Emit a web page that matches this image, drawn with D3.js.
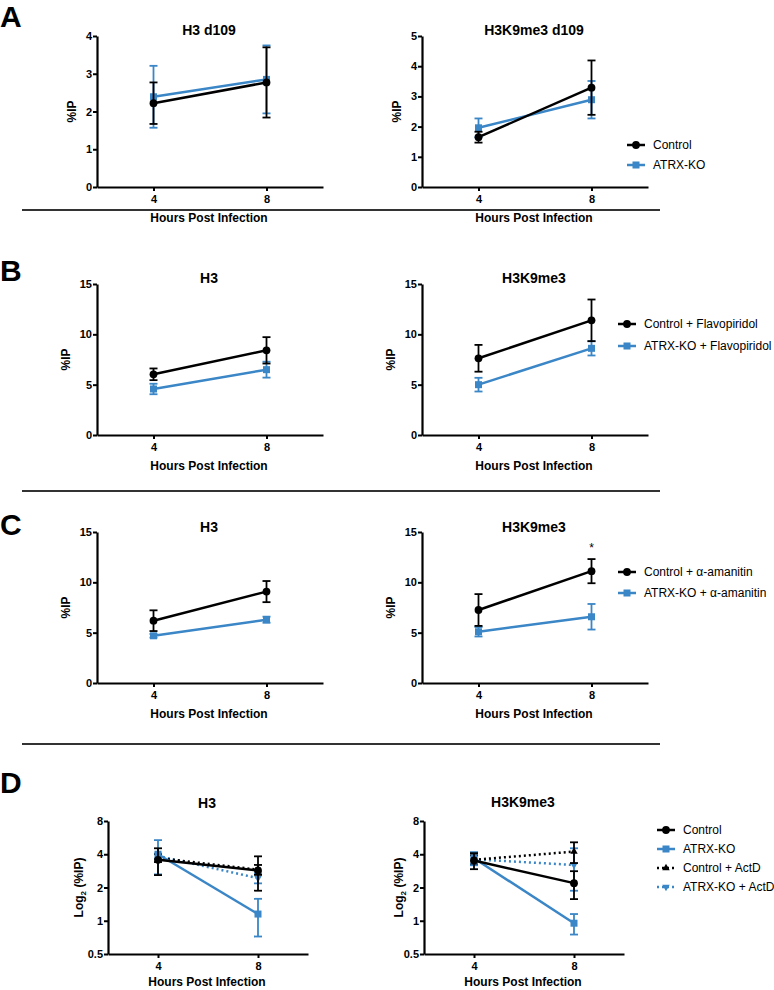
<!DOCTYPE html>
<html><head><meta charset="utf-8">
<script src="https://cdn.jsdelivr.net/npm/d3@7"></script>
<style>body{margin:0;background:#fff}</style>
</head><body><div id="chart"></div>
<script>
// ---------- DATA ----------
const hours = [4, 8];
const xTickLabels = ["4", "8"];

// A: d109
const aH3Control = [2.22, 2.77], aH3ControlSem = [0.55, 0.93];
const aH3Atrx = [2.39, 2.85], aH3AtrxSem = [0.82, 0.90];
const aK9Control = [1.65, 3.29], aK9ControlSem = [0.18, 0.90];
const aK9Atrx = [1.96, 2.89], aK9AtrxSem = [0.31, 0.62];
// B: Flavopiridol
const bH3Control = [6.03, 8.41], bH3ControlSem = [0.58, 1.31];
const bH3Atrx = [4.57, 6.49], bH3AtrxSem = [0.52, 0.79];
const bK9Control = [7.62, 11.39], bK9ControlSem = [1.33, 2.07];
const bK9Atrx = [5.00, 8.61], bK9AtrxSem = [0.68, 0.71];
// C: alpha-amanitin
const cH3Control = [6.19, 9.08], cH3ControlSem = [1.03, 1.05];
const cH3Atrx = [4.69, 6.29], cH3AtrxSem = [0.18, 0.30];
const cK9Control = [7.25, 11.11], cK9ControlSem = [1.58, 1.20];
const cK9Atrx = [5.09, 6.58], cK9AtrxSem = [0.47, 1.27];
// D: ActD (log2 axis)
const dH3Control = [3.56, 2.85], dH3ControlSem = [0.97, 0.98];
const dH3Atrx = [4.00, 1.15], dH3AtrxSem = [1.37, 0.43];
const dH3ControlActD = [3.70, 2.90], dH3ControlActDSem = [0.30, 0.30];
const dH3AtrxActD = [3.86, 2.43], dH3AtrxActDSem = [0.20, 0.25];
const dK9Control = [3.51, 2.19], dK9ControlSem = [0.58, 0.62];
const dK9Atrx = [3.68, 0.95], dK9AtrxSem = [0.50, 0.20];
const dK9ControlActD = [3.56, 4.23], dK9ControlActDSem = [0.35, 0.90];
const dK9AtrxActD = [3.60, 3.20], dK9AtrxActDSem = [0.30, 1.33];

const linTicks4 = [0, 1, 2, 3, 4];
const linTicks5 = [0, 1, 2, 3, 4, 5];
const linTicks15 = [0, 5, 10, 15];
const logTicks = [0.5, 1, 2, 4, 8];

const panelLetters = ["A", "B", "C", "D"];
const legendA = ["Control", "ATRX-KO"];
const legendB = ["Control + Flavopiridol", "ATRX-KO + Flavopiridol"];
const legendC = ["Control + \u03b1-amanitin", "ATRX-KO + \u03b1-amanitin"];
const legendD = ["Control", "ATRX-KO", "Control + ActD", "ATRX-KO + ActD"];

// ---------- STYLE ----------
const BLUE = "#3a86c6", BLACK = "#000";
const FONT = "'Liberation Sans', Arial, Helvetica, sans-serif";
const styles = {
  ctrl: {color: BLACK, marker: "circle", dash: null},
  atrx: {color: BLUE, marker: "square", dash: null},
  ctrlD: {color: BLACK, marker: "tri", dash: "2,3"},
  atrxD: {color: BLUE, marker: "triDown", dash: "2,3"}
};

const W = 774, H = 990;
const svg = d3.select("#chart").append("svg").attr("width", W).attr("height", H)
  .style("font-family", FONT);

function marker(g, type, color, cx, cy) {
  if (type === "circle") g.append("circle").attr("cx", cx).attr("cy", cy).attr("r", 3.9).attr("fill", color);
  else if (type === "square") g.append("rect").attr("x", cx - 3.5).attr("y", cy - 3.5).attr("width", 7).attr("height", 7).attr("fill", color);
  else {
    const sym = d3.symbol().type(d3.symbolTriangle).size(24);
    g.append("path").attr("d", sym()).attr("transform", `translate(${cx},${cy})${type === "triDown" ? " rotate(180)" : ""}`).attr("fill", color);
  }
}

function drawPanel(p) {
  const g = svg.append("g");
  const x = d3.scaleLinear().domain([2, 10]).range([p.x0, p.x1]);
  const y = (p.log ? d3.scaleLog().base(2) : d3.scaleLinear()).domain(p.yDomain).range([p.yBot, p.yTop]);

  const xa = g.append("g").attr("transform", `translate(0,${p.yBot})`)
    .call(d3.axisBottom(x).tickValues(hours).tickFormat((d, i) => xTickLabels[i]).tickSize(4).tickSizeOuter(0).tickPadding(4));
  const ya = g.append("g").attr("transform", `translate(${p.x0},0)`)
    .call(d3.axisLeft(y).tickValues(p.yTicks).tickFormat(d => String(d)).tickSize(4).tickSizeOuter(0).tickPadding(1));
  [xa, ya].forEach(a => {
    a.select(".domain").attr("stroke", "#000").attr("stroke-width", 2.2);
    a.selectAll(".tick line").attr("stroke", "#000").attr("stroke-width", 2);
    a.selectAll(".tick text").attr("font-family", FONT).attr("font-size", 11).attr("font-weight", "bold").attr("fill", "#000");
  });

  g.append("text").attr("x", (p.x0 + p.x1) / 2 - 1).attr("y", p.titleY).attr("text-anchor", "middle")
    .attr("font-size", 14).attr("font-weight", "bold").text(p.title);
  g.append("text").attr("x", (p.x0 + p.x1) / 2 - 1).attr("y", p.xlabY).attr("text-anchor", "middle")
    .attr("font-size", 12).attr("font-weight", "bold").text("Hours Post Infection");
  const yl = g.append("text").attr("transform", `translate(${p.ylabX},${(p.yTop + p.yBot) / 2}) rotate(-90)`)
    .attr("text-anchor", "middle").attr("font-size", 12).attr("font-weight", "bold");
  if (p.log) {
    yl.append("tspan").text("Log");
    yl.append("tspan").attr("font-size", 8).attr("dy", 3).text("2");
    yl.append("tspan").attr("dy", -3).text(" (%IP)");
  } else yl.text("%IP");

  p.series.forEach(s => {
    const st = styles[s.style];
    const pts = hours.map((h, i) => ({x: x(h), y: y(s.mean[i]), lo: y(s.mean[i] - s.sem[i]), hi: y(s.mean[i] + s.sem[i])}));
    pts.forEach(pt => {
      g.append("line").attr("x1", pt.x).attr("x2", pt.x).attr("y1", pt.lo).attr("y2", pt.hi).attr("stroke", st.color).attr("stroke-width", 1.8);
      [pt.lo, pt.hi].forEach(yy => g.append("line").attr("x1", pt.x - 4).attr("x2", pt.x + 4).attr("y1", yy).attr("y2", yy).attr("stroke", st.color).attr("stroke-width", 1.8));
    });
    g.append("path").attr("d", d3.line().x(d => d.x).y(d => d.y)(pts)).attr("fill", "none")
      .attr("stroke", st.color).attr("stroke-width", 2.5).attr("stroke-dasharray", st.dash);
    pts.forEach(pt => marker(g, st.marker, st.color, pt.x, pt.y));
  });

  if (p.star) {
    const s = p.series[p.star.series];
    const i = p.star.index;
    g.append("text").attr("x", x(hours[i])).attr("y", y(s.mean[i] + s.sem[i]) - 7).attr("text-anchor", "middle")
      .attr("font-size", 12).text("*");
  }
}

function drawLegend(names, keys, lx, ly, dy) {
  const g = svg.append("g");
  names.forEach((n, i) => {
    const st = styles[keys[i]];
    const yy = ly + i * dy;
    g.append("line").attr("x1", lx).attr("x2", lx + 18).attr("y1", yy).attr("y2", yy)
      .attr("stroke", st.color).attr("stroke-width", 2.5).attr("stroke-dasharray", st.dash);
    marker(g, st.marker, st.color, lx + 9, yy);
    g.append("text").attr("x", lx + 26).attr("y", yy + 4.3).attr("font-size", 12).text(n);
  });
}

const panels = [
  {title: "H3 d109", x0: 97, x1: 323, yTop: 36, yBot: 187, yDomain: [0, 4], yTicks: linTicks4, ylabX: 76, titleY: 35, xlabY: 222,
    series: [{mean: aH3Atrx, sem: aH3AtrxSem, style: "atrx"}, {mean: aH3Control, sem: aH3ControlSem, style: "ctrl"}]},
  {title: "H3K9me3 d109", x0: 422, x1: 648, yTop: 36, yBot: 187, yDomain: [0, 5], yTicks: linTicks5, ylabX: 401, titleY: 35, xlabY: 222,
    series: [{mean: aK9Atrx, sem: aK9AtrxSem, style: "atrx"}, {mean: aK9Control, sem: aK9ControlSem, style: "ctrl"}]},
  {title: "H3", x0: 97, x1: 323, yTop: 284, yBot: 435, yDomain: [0, 15], yTicks: linTicks15, ylabX: 70, titleY: 283, xlabY: 470,
    series: [{mean: bH3Atrx, sem: bH3AtrxSem, style: "atrx"}, {mean: bH3Control, sem: bH3ControlSem, style: "ctrl"}]},
  {title: "H3K9me3", x0: 422, x1: 648, yTop: 284, yBot: 435, yDomain: [0, 15], yTicks: linTicks15, ylabX: 395, titleY: 283, xlabY: 470,
    series: [{mean: bK9Atrx, sem: bK9AtrxSem, style: "atrx"}, {mean: bK9Control, sem: bK9ControlSem, style: "ctrl"}]},
  {title: "H3", x0: 97, x1: 323, yTop: 532, yBot: 683, yDomain: [0, 15], yTicks: linTicks15, ylabX: 70, titleY: 532, xlabY: 718,
    series: [{mean: cH3Atrx, sem: cH3AtrxSem, style: "atrx"}, {mean: cH3Control, sem: cH3ControlSem, style: "ctrl"}]},
  {title: "H3K9me3", x0: 422, x1: 648, yTop: 532, yBot: 683, yDomain: [0, 15], yTicks: linTicks15, ylabX: 395, titleY: 532, xlabY: 718,
    series: [{mean: cK9Atrx, sem: cK9AtrxSem, style: "atrx"}, {mean: cK9Control, sem: cK9ControlSem, style: "ctrl"}], star: {series: 1, index: 1}},
  {title: "H3", x0: 108, x1: 308, yTop: 821, yBot: 954, yDomain: [0.5, 8], yTicks: logTicks, log: true, ylabX: 83, titleY: 808, xlabY: 986,
    series: [{mean: dH3AtrxActD, sem: dH3AtrxActDSem, style: "atrxD"}, {mean: dH3ControlActD, sem: dH3ControlActDSem, style: "ctrlD"},
             {mean: dH3Atrx, sem: dH3AtrxSem, style: "atrx"}, {mean: dH3Control, sem: dH3ControlSem, style: "ctrl"}]},
  {title: "H3K9me3", x0: 424, x1: 624, yTop: 821, yBot: 954, yDomain: [0.5, 8], yTicks: logTicks, log: true, ylabX: 403, titleY: 807, xlabY: 986,
    series: [{mean: dK9AtrxActD, sem: dK9AtrxActDSem, style: "atrxD"}, {mean: dK9ControlActD, sem: dK9ControlActDSem, style: "ctrlD"},
             {mean: dK9Atrx, sem: dK9AtrxSem, style: "atrx"}, {mean: dK9Control, sem: dK9ControlSem, style: "ctrl"}]}
];
panels.forEach(drawPanel);

drawLegend(legendA, ["ctrl", "atrx"], 627, 145, 20);
drawLegend(legendB, ["ctrl", "atrx"], 618, 324, 22);
drawLegend(legendC, ["ctrl", "atrx"], 618, 572, 21);
drawLegend(legendD, ["ctrl", "atrx", "ctrlD", "atrxD"], 657, 830, 19);

const letterY = [27, 281, 535, 793];
panelLetters.forEach((l, i) => svg.append("text").attr("x", 0).attr("y", letterY[i])
  .attr("font-size", 30).attr("font-weight", "bold").text(l));

[210, 491, 744].forEach(yy => svg.append("line").attr("x1", 22).attr("x2", 660).attr("y1", yy).attr("y2", yy)
  .attr("stroke", "#333").attr("stroke-width", 1.8));
</script></body></html>
